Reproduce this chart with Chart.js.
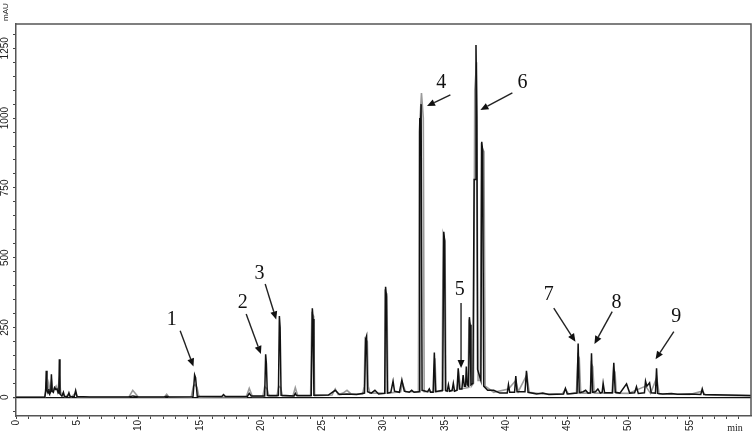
<!DOCTYPE html>
<html>
<head>
<meta charset="utf-8">
<script src="https://cdn.jsdelivr.net/npm/chart.js@4.4.1/dist/chart.umd.min.js"></script>
<style>
  html,body{margin:0;padding:0;background:#fff;}
  canvas{display:block;}
</style>
</head>
<body>
<canvas id="c" width="754" height="434"></canvas>
<script>
// ---- data (retention time in min, absorbance in mAU) ----
const xTickMinutes = [0,1,2,3,4,5,6,7,8,9,10,11,12,13,14,15,16,17,18,19,20,21,22,23,24,25,26,27,28,29,30,31,32,33,34,35,36,37,38,39,40,41,42,43,44,45,46,47,48,49,50,51,52,53,54,55,56,57,58,59];
const xLabelMinutes = [0,5,10,15,20,25,30,35,40,45,50,55];
const yTickValues = [-50,0,50,100,150,200,250,300,350,400,450,500,550,600,650,700,750,800,850,900,950,1000,1050,1100,1150,1200,1250,1300];
const yLabelValues = [0,250,500,750,1000,1250];

// sample chromatogram (black trace)
const sampleTrace = [
  [0,0],[2.35,0],
  [2.42,20],[2.47,95],[2.53,25],[2.62,15],[2.68,30],[2.74,12],
  [2.84,20],[2.89,82],[2.95,22],[3.05,18],[3.15,35],[3.25,28],[3.35,30],[3.45,15],
  [3.5,18],[3.54,136],[3.59,12],[3.75,4],[3.87,18],[3.95,3],
  [4.2,2],[4.32,16],[4.42,2],[4.75,2],[4.87,24],[4.98,3],
  [5.5,2],[6,1],[9.2,1],[9.55,5],[10,1],[12.1,1],[12.3,4],[12.5,1],
  [14.45,2],[14.58,80],[14.66,70],[14.8,3],[16.8,3],[16.94,10],[17.1,3],
  [18.9,4],[19.04,14],[19.2,5],[20.3,5],[20.38,154],[20.44,120],[20.52,6],
  [21.42,6],[21.5,291],[21.56,250],[21.64,7],[22.7,5],[22.8,14],[22.9,6],
  [24.1,6],[24.19,319],[24.25,280],[24.32,7],
  [25.5,8],[26.06,25],[26.4,10],[27.0,12],[27.8,10],
  [28.45,15],[28.55,210],[28.62,220],[28.7,20],[29.0,15],[29.3,25],[29.6,12],
  [30.1,14],[30.17,396],[30.24,360],[30.32,15],[30.6,18],[30.78,58],[30.9,22],
  [31.3,18],[31.5,62],[31.7,22],[32.1,18],[32.3,25],[32.5,18],
  [32.9,20],[32.96,1000],[33.02,960],[33.07,1050],[33.15,25],
  [33.6,20],[33.74,30],[33.85,18],[34.05,18],[34.15,160],[34.25,20],
  [34.83,25],[34.92,593],[34.99,560],[35.06,25],[35.2,22],[35.3,45],[35.4,22],
  [35.6,25],[35.7,50],[35.8,22],[36.0,25],[36.1,104],[36.2,30],
  [36.4,30],[36.5,80],[36.6,40],[36.7,40],[36.76,110],[36.85,45],
  [36.95,40],[37.01,287],[37.07,260],[37.14,45],
  [37.3,50],[37.4,780],[37.5,780],[37.55,1262],[37.62,1000],[37.68,100],
  [37.95,60],[38.02,915],[38.1,880],[38.18,40],
  [38.5,25],[39.0,25],[39.5,15],[40.1,15],[40.2,45],[40.3,18],
  [40.7,18],[40.8,76],[40.9,20],[41.55,20],[41.67,95],[41.8,18],
  [42.5,12],[43.0,15],[43.5,10],[44.7,12],[44.85,32],[45.0,12],
  [45.8,15],[45.89,193],[45.98,16],[46.3,20],[46.5,25],[46.7,15],
  [46.9,16],[46.98,158],[47.07,18],[47.3,20],[47.5,30],[47.7,15],
  [47.85,18],[47.93,50],[48.05,16],[48.7,16],[48.8,124],[48.92,18],
  [49.3,15],[49.84,48],[50.1,15],[50.5,16],[50.65,38],[50.8,14],
  [51.3,16],[51.39,58],[51.5,40],[51.72,52],[51.85,16],
  [52.2,15],[52.29,104],[52.38,14],[52.8,12],[53.5,14],[54,11],[55,12],
  [55.9,10],[56.02,30],[56.15,10],[57,9],[58,8],[59,7],[60,6]
];

// reference/standard chromatogram (grey trace)
const standardTrace = [
  [0,0],[2.35,0],[2.45,40],[2.55,20],[2.67,50],[2.78,20],[2.9,60],[3.0,25],[3.1,30],
  [3.27,40],[3.4,20],[3.55,70],[3.65,15],[3.87,12],[4.0,2],[4.3,10],[4.5,1],[4.87,15],[5.0,2],[6,0],
  [9.2,0],[9.53,25],[10.0,0],[12.1,0],[12.3,11],[12.5,0],
  [14.3,0],[14.48,40],[14.62,45],[14.78,35],[14.95,0],
  [18.8,2],[19.04,32],[19.3,3],[20.15,3],[20.3,38],[20.5,30],[20.65,4],
  [21.3,4],[21.45,40],[21.6,35],[21.75,5],[22.6,4],[22.8,35],[23.0,5],
  [24.05,5],[24.15,300],[24.3,290],[24.38,6],
  [25.8,8],[26.06,30],[26.3,10],[26.7,15],[27.02,25],[27.35,12],
  [28.3,12],[28.43,40],[28.5,210],[28.68,200],[28.75,40],[28.9,15],
  [30.05,15],[30.12,380],[30.28,370],[30.36,15],[31.4,20],[31.55,50],[31.8,20],
  [32.85,20],[32.92,950],[33.1,1090],[33.25,1000],[33.32,20],
  [34.1,20],[34.2,140],[34.3,20],[34.78,22],[34.87,585],[35.02,560],[35.1,22],
  [36.0,25],[36.15,80],[36.3,30],[36.9,35],[36.98,270],[37.1,260],[37.18,40],
  [37.35,50],[37.45,1100],[37.6,1200],[37.72,60],
  [37.9,60],[37.99,900],[38.2,880],[38.3,40],
  [39,18],[40.2,30],[40.8,60],[41.0,20],[41.7,80],[41.9,18],[43,12],
  [44.6,12],[44.85,30],[45.1,12],[45.75,15],[45.88,150],[45.98,140],[46.1,15],
  [46.88,15],[46.97,120],[47.08,110],[47.2,15],[48.65,15],[48.78,100],[48.9,90],[49.0,15],
  [50,14],[51.4,40],[51.8,14],[52.3,70],[52.5,12],[55,10],[56.0,22],[56.3,8],[60,5]
];

// peak annotations: label, label position, arrow tail, arrow head (all in min / mAU)
const peakLabels = ['1','2','3','4','5','6','7','8','9'];
const labelPos  = [[12.72,277],[18.52,337],[19.88,442],[34.72,1126],[36.22,384],[41.34,1126],[43.49,366],[49.02,340],[53.90,289]];
const arrowFrom = [[13.40,238],[18.79,298],[20.34,406],[35.46,1083],[36.33,338],[40.52,1090],[43.90,319],[48.67,307],[53.70,235]];
const arrowTo   = [[14.49,110],[19.99,155],[21.24,279],[33.55,1043],[36.33,105],[37.91,1029],[45.67,199],[47.22,191],[52.21,136]];

// ---- plugins ----
const frameAndText = {
  id:'frameAndText',
  afterDraw(chart){
    const {ctx, chartArea:a, scales:{x,y}} = chart;
    ctx.save();
    // top and right frame
    ctx.strokeStyle = '#555'; ctx.lineWidth = 1.5;
    ctx.beginPath();
    ctx.moveTo(a.left, a.top); ctx.lineTo(a.right, a.top); ctx.lineTo(a.right, a.bottom);
    ctx.stroke();
    // rotated y labels
    ctx.fillStyle = '#222';
    ctx.font = '10px "Liberation Sans", Arial, sans-serif';
    ctx.textAlign = 'center'; ctx.textBaseline = 'middle';
    yLabelValues.forEach(v=>{
      ctx.save();
      ctx.translate(5.5, y.getPixelForValue(v));
      ctx.rotate(-Math.PI/2);
      ctx.fillText(String(v), 0, 0);
      ctx.restore();
    });
    // axis units
    ctx.save();
    ctx.translate(5.5, y.getPixelForValue(1337) - 12);
    ctx.rotate(-Math.PI/2);
    ctx.font = '8px "Liberation Sans", Arial, sans-serif';
    ctx.fillText('mAU', 0, 0);
    ctx.restore();
    ctx.font = '10px "Liberation Serif", serif';
    ctx.textAlign = 'center';
    ctx.fillText('min', x.getPixelForValue(58.7), a.bottom + 12);
    // peak numbers and arrows
    ctx.font = '20px "Liberation Serif", "Times New Roman", serif';
    ctx.fillStyle = '#111';
    ctx.strokeStyle = '#222';
    peakLabels.forEach((lab,i)=>{
      const lx = x.getPixelForValue(labelPos[i][0]), ly = y.getPixelForValue(labelPos[i][1]);
      ctx.fillText(lab, lx, ly);
      const x1 = x.getPixelForValue(arrowFrom[i][0]), y1 = y.getPixelForValue(arrowFrom[i][1]);
      const x2 = x.getPixelForValue(arrowTo[i][0]),   y2 = y.getPixelForValue(arrowTo[i][1]);
      const ang = Math.atan2(y2-y1, x2-x1);
      const hl = 8, hw = 3.5;
      const bx = x2 - hl*Math.cos(ang), by = y2 - hl*Math.sin(ang);
      ctx.lineWidth = 1.4;
      ctx.beginPath(); ctx.moveTo(x1,y1); ctx.lineTo(bx,by); ctx.stroke();
      ctx.beginPath();
      ctx.moveTo(x2,y2);
      ctx.lineTo(bx + hw*Math.sin(ang), by - hw*Math.cos(ang));
      ctx.lineTo(bx - hw*Math.sin(ang), by + hw*Math.cos(ang));
      ctx.closePath(); ctx.fill();
    });
    ctx.restore();
  }
};

const toXY = arr => arr.map(p=>({x:p[0], y:p[1]}));

new Chart(document.getElementById('c'), {
  type:'line',
  data:{
    datasets:[
      {label:'sample', data:toXY(sampleTrace), borderColor:'#111', borderWidth:1.5, pointRadius:0, tension:0, fill:false},
      {label:'standard', data:toXY(standardTrace), borderColor:'#9a9a9a', borderWidth:1.6, pointRadius:0, tension:0, fill:false}
    ]
  },
  options:{
    responsive:false, animation:false, devicePixelRatio:1,
    layout:{padding:{top:24, right:3, left:0, bottom:0}},
    plugins:{legend:{display:false}, tooltip:{enabled:false}},
    scales:{
      x:{
        type:'linear', min:0, max:60,
        afterBuildTicks(s){ s.ticks = xTickMinutes.map(v=>({value:v})); },
        afterFit(s){ s.height = 18; },
        ticks:{autoSkip:false, minRotation:90, maxRotation:90, padding:1, color:'#222',
          font:{size:10, family:'"Liberation Sans", Arial, sans-serif'},
          callback:(v)=> xLabelMinutes.includes(v) ? String(v) : ''},
        grid:{drawOnChartArea:false, tickLength:3, tickColor:'#444', tickWidth:1},
        border:{color:'#555', width:1.5}
      },
      y:{
        type:'linear', min:-67, max:1337,
        afterBuildTicks(s){ s.ticks = yTickValues.map(v=>({value:v})); },
        afterFit(s){ s.width = 16; },
        ticks:{display:true, callback:()=>'', font:{size:1}},
        grid:{drawOnChartArea:true, tickLength:3, tickColor:'#444',
          color:(c)=> (c.tick && c.tick.value===0) ? '#111' : 'rgba(0,0,0,0)',
          lineWidth:(c)=> (c.tick && c.tick.value===0) ? 1.3 : 1},
        border:{color:'#555', width:1.5}
      }
    }
  },
  plugins:[frameAndText]
});
</script>
</body>
</html>
